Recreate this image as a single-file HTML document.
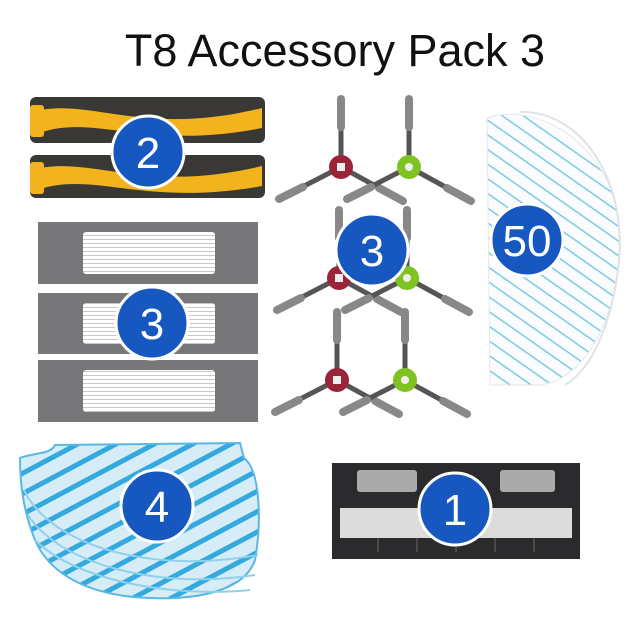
<!DOCTYPE html>
<html><head><meta charset="utf-8"><style>
html,body{margin:0;padding:0;background:#fff;}
svg{display:block;}
text{font-family:"Liberation Sans",sans-serif;}
</style></head><body>
<svg width="640" height="640" viewBox="0 0 640 640" xmlns="http://www.w3.org/2000/svg">
<defs>
<g id="sb">
 <g stroke="#555" stroke-linecap="round">
  <line x1="0" y1="0" x2="0" y2="-68" stroke-width="5"/>
  <line x1="0" y1="0" x2="-62" y2="32" stroke-width="5"/>
  <line x1="0" y1="0" x2="62" y2="34" stroke-width="5"/>
 </g>
 <g stroke="#888" stroke-linecap="round" stroke-width="8">
  <line x1="0" y1="-40" x2="0" y2="-68"/>
  <line x1="-38" y1="20" x2="-62" y2="32"/>
  <line x1="38" y1="21" x2="62" y2="34"/>
 </g>
</g>
<pattern id="hepa" width="4" height="4" patternUnits="userSpaceOnUse"><rect width="4" height="4" fill="#fff"/><rect y="3" width="4" height="1" fill="#c8c8c8"/></pattern>
<pattern id="mop" width="12" height="12" patternUnits="userSpaceOnUse" patternTransform="rotate(35)"><rect width="12" height="12" fill="#fafcfd"/><rect y="10" width="12" height="1.5" fill="#7cc9e8"/></pattern>
<pattern id="mop4" width="18" height="18" patternUnits="userSpaceOnUse" patternTransform="rotate(-28)"><rect width="18" height="18" fill="#d6edf7"/><rect y="12" width="18" height="5" fill="#34a9dd"/></pattern>
</defs>

<text x="335" y="66" font-size="45" text-anchor="middle" fill="#111">T8 Accessory Pack 3</text>

<!-- roller brushes -->
<g>
 <rect x="30" y="97" width="235" height="46" rx="6" fill="#3a3834"/>
 <path d="M32 112 C90 96,140 138,262 108 L262 128 C140 152,90 110,32 136Z" fill="#f2b31c"/>
 <rect x="30" y="105" width="14" height="32" rx="3" fill="#f2b31c"/>
 <rect x="30" y="155" width="235" height="43" rx="6" fill="#3a3834"/>
 <path d="M32 170 C90 154,140 195,262 166 L262 186 C140 208,90 168,32 192Z" fill="#f2b31c"/>
 <rect x="30" y="162" width="14" height="32" rx="3" fill="#f2b31c"/>
</g>

<!-- filters -->
<g>
 <rect x="38" y="222" width="220" height="62" fill="#77777a"/>
 <rect x="83" y="232" width="132" height="42" rx="3" fill="url(#hepa)"/>
 <rect x="38" y="293" width="220" height="61" fill="#77777a"/>
 <rect x="83" y="303" width="132" height="41" rx="3" fill="url(#hepa)"/>
 <rect x="38" y="360" width="220" height="62" fill="#77777a"/>
 <rect x="83" y="370" width="132" height="42" rx="3" fill="url(#hepa)"/>
</g>

<!-- side brushes -->
<g>
 <use href="#sb" x="341" y="167"/><use href="#sb" x="409" y="167"/>
 <use href="#sb" x="339" y="278"/><use href="#sb" x="407" y="278"/>
 <use href="#sb" x="337" y="380"/><use href="#sb" x="405" y="380"/>
 <g fill="#9a2438"><circle cx="341" cy="167" r="12"/><circle cx="339" cy="278" r="12"/><circle cx="337" cy="380" r="12"/></g>
 <g fill="#7fc322"><circle cx="409" cy="167" r="12"/><circle cx="407" cy="278" r="12"/><circle cx="405" cy="380" r="12"/></g>
 <g fill="#eee"><rect x="337" y="163" width="8" height="8"/><rect x="335" y="274" width="8" height="8"/><rect x="333" y="376" width="8" height="8"/>
 <circle cx="409" cy="167" r="4"/><circle cx="407" cy="278" r="4"/><circle cx="405" cy="380" r="4"/></g>
</g>

<!-- mop right -->
<path d="M487 118 C540 100,625 150,620 250 C615 330,580 380,540 385 L490 385 Z" fill="url(#mop)" stroke="#e6e8ea"/>
<path d="M520 112 C580 110,630 180,618 270 C610 330,590 370,565 385" fill="none" stroke="#dfe3e6" stroke-width="2"/>

<!-- mops bottom left -->
<path d="M20 458 C35 452,50 455,55 445 L240 443 L244 458 C260 470,262 520,255 560 C245 590,200 600,150 598 C90 596,50 575,35 540 C25 515,20 490,20 458 Z" fill="url(#mop4)" stroke="#5bb8e2" stroke-width="2"/>
<g fill="none" stroke="#8fd0ec" stroke-width="2">
 <path d="M24 490 C50 545,150 575,258 555"/>
 <path d="M28 515 C60 565,160 590,255 575"/>
 <path d="M35 540 C75 580,170 598,250 590"/>
</g>

<!-- dust bin -->
<g>
 <rect x="332" y="463" width="248" height="96" fill="#2b2b2d"/>
 <rect x="357" y="470" width="60" height="22" rx="3" fill="#aaa"/>
 <rect x="500" y="470" width="55" height="22" rx="3" fill="#aaa"/>
 <rect x="340" y="508" width="232" height="30" fill="#dcdcdc"/>
 <g stroke="#555" stroke-width="1.5"><line x1="378" y1="538" x2="378" y2="552"/><line x1="417" y1="538" x2="417" y2="552"/><line x1="456" y1="538" x2="456" y2="552"/><line x1="495" y1="538" x2="495" y2="552"/><line x1="534" y1="538" x2="534" y2="552"/></g>
</g>

<!-- badges -->
<g stroke="#fff" stroke-width="3" fill="#1657c0">
 <circle cx="148" cy="152" r="36"/>
 <circle cx="152" cy="323" r="36"/>
 <circle cx="372" cy="250" r="36"/>
 <circle cx="527" cy="240" r="36"/>
 <circle cx="157" cy="506" r="36"/>
 <circle cx="455" cy="509" r="36"/>
</g>
<g fill="#fff" font-size="44" text-anchor="middle">
 <text x="148" y="168">2</text>
 <text x="152" y="339">3</text>
 <text x="372" y="266">3</text>
 <text x="527" y="256">50</text>
 <text x="157" y="522">4</text>
 <text x="455" y="525">1</text>
</g>
</svg>
</body></html>
